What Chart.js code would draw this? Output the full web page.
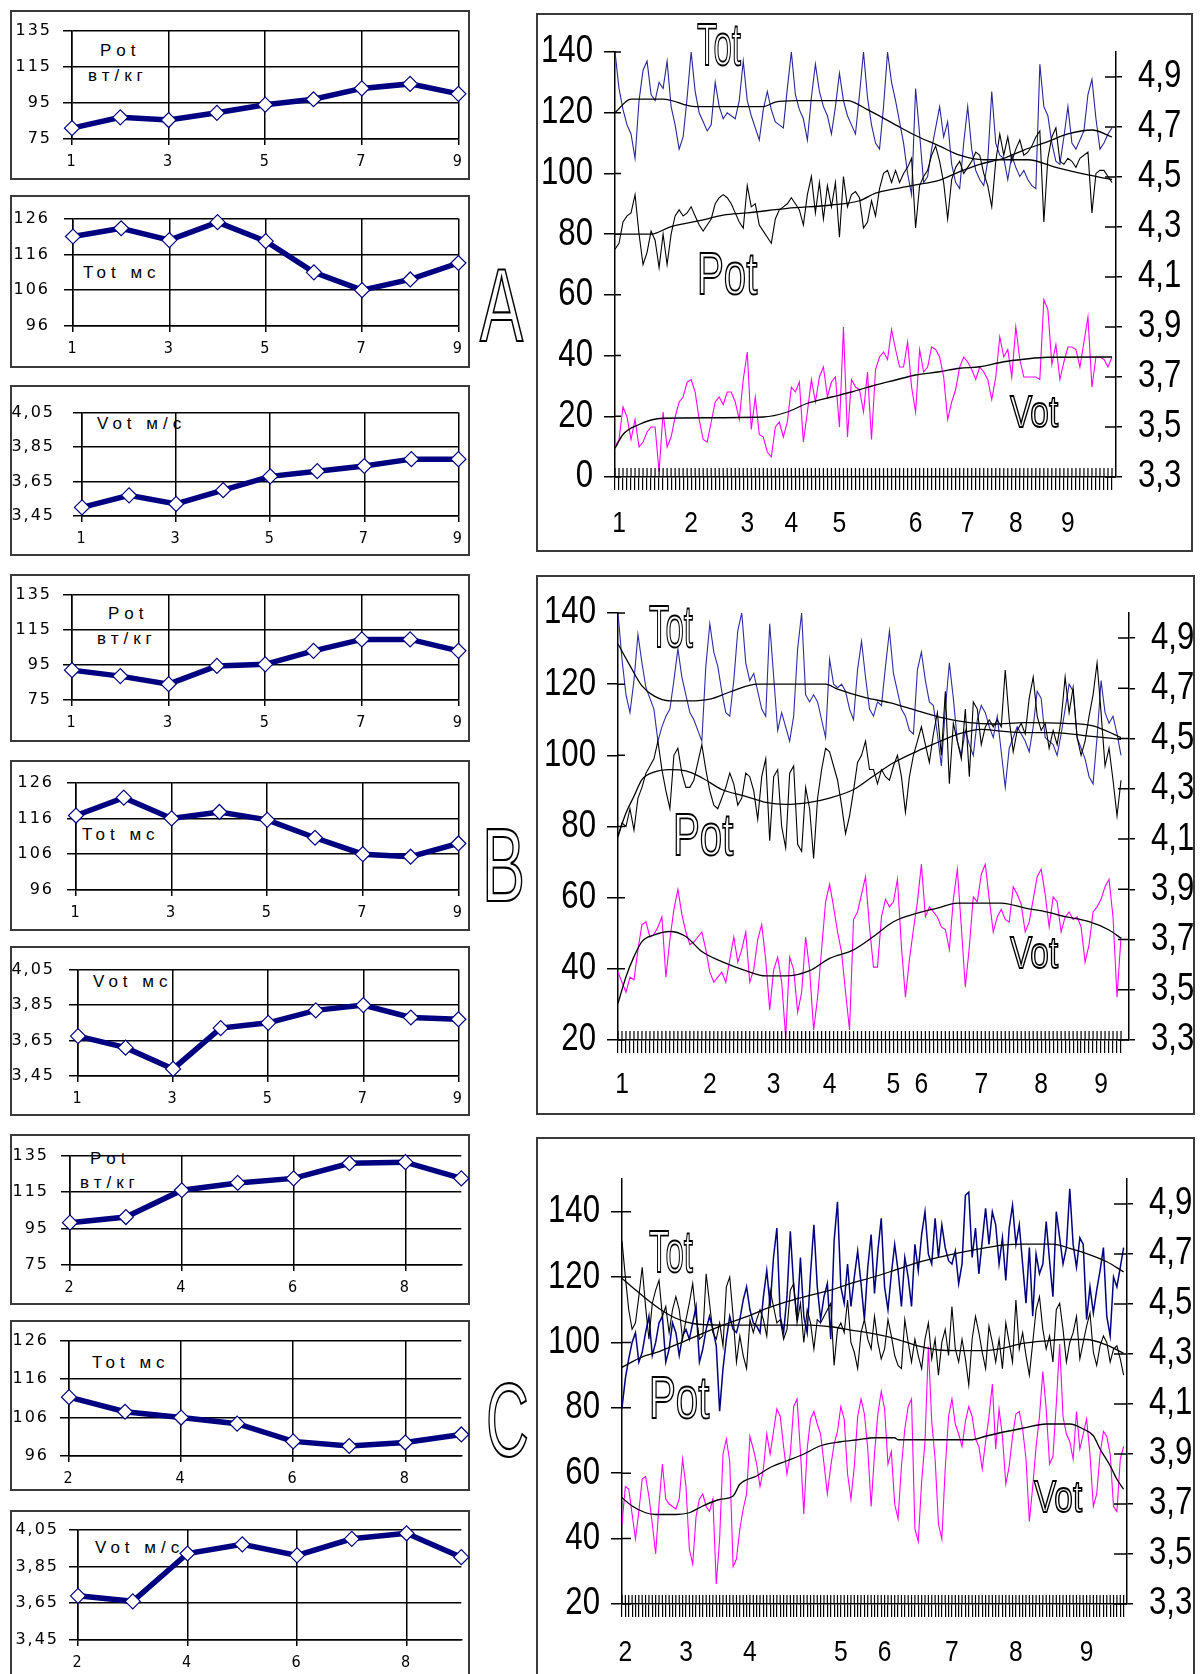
<!DOCTYPE html>
<html>
<head>
<meta charset="utf-8">
<title>Pot / Tot / Vot</title>
<script src="https://cdn.jsdelivr.net/npm/chart.js@4.4.1/dist/chart.umd.min.js"></script>
<style>
  html, body { margin: 0; padding: 0; background: #fff; }
  body { position: relative; width: 1203px; height: 1674px; overflow: hidden; }
  .box { position: absolute; border: 2px solid #3a3a3a; box-sizing: border-box; }
  canvas { position: absolute; }
  .sl { position: absolute; font-family: 'Liberation Sans', Arial, sans-serif; font-size: 17px; letter-spacing: 5px; line-height: 1; white-space: pre; color: #000; }
  .hollow { position: absolute; font-family: 'Liberation Sans', Arial, sans-serif; color: #fff; -webkit-text-stroke: 2.2px #000; line-height: 1; transform-origin: 0 0; white-space: pre; z-index: 5; }
  .hollow.sm { -webkit-text-stroke-width: 1.8px; }
</style>
</head>
<body>

<!-- подписи малых графиков -->
<div class="sl" style="left:100px;top:42px">Pot</div>
<div class="sl" style="left:88px;top:67px">вт/кг</div>
<div class="sl" style="left:83px;top:264px">Tot мс</div>
<div class="sl" style="left:97px;top:415px">Vot м/с</div>
<div class="sl" style="left:108px;top:605px">Pot</div>
<div class="sl" style="left:97px;top:630px">вт/кг</div>
<div class="sl" style="left:82px;top:826px">Tot мс</div>
<div class="sl" style="left:93px;top:973px">Vot мс</div>
<div class="sl" style="left:90px;top:1150px">Pot</div>
<div class="sl" style="left:80px;top:1174px">вт/кг</div>
<div class="sl" style="left:92px;top:1354px">Tot мс</div>
<div class="sl" style="left:95px;top:1539px">Vot м/с</div>

<!-- буквы групп -->
<div class="hollow" style="left:480px;top:253px;font-size:104px;transform:scaleX(0.62)">A</div>
<div class="hollow" style="left:482px;top:813px;font-size:104px;transform:scaleX(0.62)">B</div>
<div class="hollow" style="left:486px;top:1368px;font-size:104px;transform:scaleX(0.57)">C</div>

<!-- подписи больших графиков -->
<div class="hollow sm" style="left:697px;top:15px;font-size:60px;transform:scaleX(0.55)">Tot</div>
<div class="hollow sm" style="left:697px;top:244px;font-size:60px;transform:scaleX(0.67)">Pot</div>
<div class="hollow sm" style="left:1010px;top:389px;font-size:45px;transform:scaleX(0.74)">Vot</div>
<div class="hollow sm" style="left:649px;top:597px;font-size:60px;transform:scaleX(0.55)">Tot</div>
<div class="hollow sm" style="left:673px;top:805px;font-size:60px;transform:scaleX(0.67)">Pot</div>
<div class="hollow sm" style="left:1010px;top:930px;font-size:45px;transform:scaleX(0.74)">Vot</div>
<div class="hollow sm" style="left:649px;top:1222px;font-size:60px;transform:scaleX(0.55)">Tot</div>
<div class="hollow sm" style="left:649px;top:1368px;font-size:60px;transform:scaleX(0.67)">Pot</div>
<div class="hollow sm" style="left:1034px;top:1474px;font-size:45px;transform:scaleX(0.74)">Vot</div>

<script>
// ---- малые графики (по дням) ----
const daysAB = [1, 2, 3, 4, 5, 6, 7, 8, 9];
const daysC = [2, 3, 4, 5, 6, 7, 8, 9];
const dayTicksAB = [1, 3, 5, 7, 9];
const dayTicksC = [2, 4, 6, 8];
const potTicks = [75, 95, 115, 135];
const totTicks = [96, 106, 116, 126];
const votTicks = [3.45, 3.65, 3.85, 4.05];

const potDayA = [81, 87, 85.5, 89.5, 94, 97, 103, 105.5, 100];
const totDayA = [121, 123.3, 120, 125, 119.7, 111, 106, 109, 113.6];
const votDayA = [3.50, 3.57, 3.52, 3.60, 3.68, 3.71, 3.74, 3.78, 3.78];
const potDayB = [92, 88.6, 84, 94.4, 95.3, 103, 109.5, 109.5, 103];
const totDayB = [116.8, 121.8, 116, 117.8, 115.6, 110.6, 106, 105.3, 109];
const votDayB = [3.675, 3.61, 3.49, 3.72, 3.75, 3.82, 3.85, 3.78, 3.77];
const potDayC = [98.2, 101.3, 116, 120, 122.5, 130.8, 131.4, 122.5];
const totDayC = [111.3, 107.5, 106, 104.4, 99.8, 98.6, 99.5, 101.6];
const votDayC = [3.69, 3.66, 3.92, 3.97, 3.91, 4.0, 4.03, 3.90];

// ---- большие графики (по попыткам) ----
const leftTicksA = [0, 20, 40, 60, 80, 100, 120, 140];
const leftTicksBC = [20, 40, 60, 80, 100, 120, 140];
const rightTicks = [3.3, 3.5, 3.7, 3.9, 4.1, 4.3, 4.5, 4.7, 4.9];

const xLabelPosA = [1, 19, 33, 44, 56, 75, 88, 100, 113];
const xLabelsA = ['1', '2', '3', '4', '5', '6', '7', '8', '9'];
const xLabelPosB = [1, 23, 39, 53, 69, 76, 91, 106, 121];
const xLabelsB = ['1', '2', '3', '4', '5', '6', '7', '8', '9'];
const xLabelPosC = [1, 19, 38, 65, 78, 98, 117, 138];
const xLabelsC = ['2', '3', '4', '5', '6', '7', '8', '9'];

const totA = [140,128,121,116,113,105,124,134,137,126, 124,130,128,137,122,116,108,112,125,140,
  127,120,117,114,116,130,122,118,120,119, 118,124,137,124,119,115,111,121,127,121,
  117,116,115,128,140,126,121,118,111,125, 136,127,122,119,113,122,133,124,119,116,
  113,126,140,125,116,110,108,122,140,130, 124,117,110,100,93,128,113,97,99,108,
  115,122,112,117,103,97,95,110,122,108, 101,98,96,104,127,110,106,105,98,106,
  102,99,101,98,96,95,136,122,119,110, 104,103,112,122,110,108,111,114,126,131,
  118,108,110,113,115];
const potA = [75,77,84,86,87,93,80,70,74,81, 78,69,80,70,80,86,88,86,87,89,
  86,83,81,83,85,90,92,93,92,90, 87,84,82,96,89,90,83,81,79,77,
  85,88,89,90,92,90,88,83,93,99, 87,97,85,96,89,97,79,99,89,93,
  94,92,82,84,91,86,95,100,101,97, 101,97,100,102,105,82,96,99,101,106,
  109,104,97,85,98,102,104,100,102,104, 107,106,100,96,89,104,113,106,112,104,
  108,111,106,107,109,112,114,84,105,112, 115,104,103,105,104,102,105,106,107,87,
  100,101,101,99,97];
const votA = [3.42,3.45,3.58,3.54,3.45,3.53,3.42,3.44,3.48,3.50, 3.50,3.32,3.56,3.42,3.46,3.54,3.60,3.62,3.68,3.69,
  3.64,3.53,3.45,3.44,3.52,3.60,3.62,3.59,3.64,3.64, 3.60,3.53,3.69,3.80,3.49,3.62,3.47,3.46,3.40,3.38,
  3.50,3.52,3.46,3.52,3.66,3.64,3.68,3.44,3.56,3.69, 3.60,3.70,3.74,3.62,3.68,3.70,3.50,3.90,3.46,3.69,
  3.66,3.65,3.56,3.72,3.45,3.73,3.78,3.80,3.77,3.89, 3.81,3.74,3.74,3.84,3.66,3.56,3.81,3.72,3.74,3.82,
  3.81,3.78,3.70,3.53,3.60,3.65,3.74,3.78,3.76,3.73, 3.69,3.74,3.72,3.69,3.61,3.70,3.86,3.78,3.81,3.70,
  3.90,3.77,3.70,3.70,3.70,3.70,3.69,4.01,3.97,3.75, 3.83,3.69,3.76,3.82,3.82,3.81,3.74,3.84,3.94,3.66,
  3.78,3.78,3.77,3.74,3.78];
const totTrendXA = [0, 4, 12, 20, 37, 40, 45, 58, 63, 70, 75, 81, 86, 92, 103, 110, 118, 124];
const totTrendA = [120, 124.5, 124.5, 122, 122, 123.5, 124, 124, 121, 116, 112.5, 109, 106, 104.5, 104.5, 102, 99.5, 98];
const potTrendXA = [0, 9, 14, 22, 27, 33, 43, 54, 61, 65, 70, 75, 81, 86, 91, 97, 102, 108, 113, 119, 124];
const potTrendA = [80, 80, 82.5, 84.7, 86.3, 87, 88.5, 89.6, 91, 93.5, 95, 96.2, 97.8, 100.6, 103, 105, 107.7, 110.5, 113, 114.3, 112];
const votTrendXA = [0, 2, 6, 9, 12, 37, 43, 48, 54, 59, 65, 70, 75, 81, 86, 91, 97, 102, 108, 124];
const votTrendA = [3.415, 3.47, 3.51, 3.528, 3.535, 3.54, 3.56, 3.595, 3.62, 3.64, 3.668, 3.688, 3.708, 3.721, 3.735, 3.741, 3.761, 3.771, 3.779, 3.78];

const totB = [140,127,117,112,121,134,126,119,116,113, 104,108,111,113,121,130,122,117,112,110,
  107,104,125,137,129,125,118,112,111,121, 135,140,126,121,123,118,113,111,137,122,
  107,112,108,104,111,130,140,117,115,117, 115,110,105,127,120,119,120,118,113,110,
  124,132,122,113,111,115,114,125,135,123, 118,113,111,107,106,124,129,121,115,114,
  106,97,113,126,116,104,100,107,103,100, 110,114,112,108,105,111,101,91,102,105,
  108,106,104,101,108,118,116,105,104,103, 100,106,113,120,118,105,102,99,94,92,
  105,121,112,109,111,106,100];
const potB = [77,81,80,85,79,88,91,95,97,99, 104,96,90,85,100,102,95,91,91,93,
  98,103,96,90,86,85,88,91,95,92, 86,88,95,94,90,82,94,99,76,94,
  96,80,74,95,97,75,73,91,85,71, 88,96,102,101,97,93,86,78,83,90,
  98,100,104,96,96,92,96,94,93,97, 100,94,84,94,100,104,108,103,98,106,
  112,100,118,92,109,104,99,113,94,115, 113,103,108,110,108,110,108,124,110,101,
  107,109,106,116,122,111,107,109,102,107, 103,110,122,112,119,105,100,104,111,117,
  126,112,97,102,93,83,93];
const votB = [3.57,3.53,3.49,3.55,3.54,3.66,3.76,3.77,3.71,3.72, 3.75,3.79,3.55,3.70,3.82,3.90,3.80,3.73,3.68,3.69,
  3.71,3.73,3.66,3.57,3.53,3.55,3.57,3.53,3.62,3.71, 3.61,3.66,3.73,3.53,3.58,3.70,3.76,3.62,3.42,3.58,
  3.63,3.53,3.31,3.63,3.58,3.41,3.49,3.71,3.58,3.34, 3.47,3.66,3.85,3.92,3.83,3.73,3.65,3.49,3.34,3.78,
  3.81,3.88,3.95,3.75,3.59,3.59,3.79,3.86,3.83,3.85, 3.94,3.67,3.47,3.62,3.74,3.85,4.00,3.79,3.83,3.81,
  3.79,3.75,3.74,3.66,3.86,3.98,3.75,3.51,3.67,3.87, 3.85,3.96,4.00,3.86,3.73,3.79,3.82,3.78,3.77,3.91,
  3.88,3.84,3.73,3.77,3.86,3.95,3.98,3.88,3.75,3.87, 3.85,3.73,3.79,3.81,3.78,3.79,3.75,3.61,3.68,3.81,
  3.83,3.86,3.91,3.94,3.79,3.47,3.71];
const totTrendXB = [0, 3, 6, 9, 13, 18, 23, 28, 35, 42, 52, 55, 62, 68, 75, 81, 88, 94, 102, 112, 119, 126];
const totTrendB = [131.3, 125.2, 119.5, 116.7, 115.3, 115.3, 115.8, 117.8, 120, 120, 120, 118.6, 116.2, 114.8, 112.5, 110.6, 109.2, 108.8, 109.2, 109, 108.3, 105];
const potTrendXB = [0, 2, 4, 6, 9, 13, 17, 21, 26, 32, 37, 42, 48, 53, 59, 64, 69, 75, 80, 85, 91, 96, 102, 109, 118, 126];
const potTrendB = [77.4, 83.8, 88.5, 93.2, 95.3, 96, 95.6, 93.7, 90.4, 88.5, 86.8, 86.2, 86.8, 88, 90.4, 94.2, 97.9, 101.2, 103.6, 105.9, 107.3, 106.8, 106.4, 106.4, 105.4, 104.5];
const votTrendXB = [0, 2, 4, 6, 9, 13, 17, 21, 26, 32, 37, 42, 48, 53, 59, 64, 69, 75, 80, 85, 91, 96, 102, 107, 112, 118, 123, 126];
const votTrendB = [3.446, 3.552, 3.632, 3.692, 3.718, 3.732, 3.712, 3.652, 3.612, 3.576, 3.555, 3.555, 3.576, 3.625, 3.659, 3.712, 3.771, 3.805, 3.825, 3.845, 3.845, 3.845, 3.825, 3.811, 3.791, 3.771, 3.738, 3.705];

const totC = [80,89,95,100,103,94,97,103,108,96, 100,106,108,94,98,106,103,96,102,104,
  101,106,111,94,98,104,108,104,99,79, 92,101,108,104,103,107,113,117,110,106,
  105,103,114,122,111,126,135,108,103,114, 134,117,107,126,108,103,121,136,117,107,
  114,118,101,131,143,117,112,124,111,120, 128,118,107,123,133,115,128,138,117,110,
  121,130,122,111,126,120,111,130,122,133, 140,127,124,138,126,136,129,125,124,128,
  118,124,145,146,126,135,121,131,141,130, 140,136,124,132,119,135,142,130,136,124,
  112,129,108,127,121,124,137,125,114,140, 132,124,129,147,130,123,132,130,107,117,
  109,116,122,129,108,102,120,117,123,129];
const potC = [131,120,110,104,106,114,123,111,101,112, 116,119,108,111,103,110,114,110,101,107,
  112,118,108,101,102,121,112,103,101,106, 99,117,120,108,94,102,96,92,107,103,
  107,110,107,102,116,111,106,107,101,104, 116,118,106,112,100,110,106,98,107,106,
  108,110,112,93,104,106,103,113,100,97, 92,103,107,101,98,108,100,95,98,107,
  102,96,93,92,107,100,94,101,96,92, 101,106,95,101,90,100,104,96,111,98,
  94,101,95,87,101,108,103,97,92,105, 100,94,101,92,106,100,94,113,98,103,
  96,90,100,110,114,104,98,102,94,110, 112,104,94,100,103,108,95,100,105,109,
  97,93,99,102,100,94,98,99,95,90];
const votC = [3.62,3.77,3.76,3.66,3.56,3.67,3.80,3.81,3.73,3.62, 3.50,3.70,3.86,3.72,3.70,3.69,3.68,3.72,3.88,3.77,
  3.52,3.46,3.65,3.72,3.74,3.69,3.67,3.72,3.38,3.56, 3.90,3.96,3.87,3.45,3.48,3.60,3.68,3.74,3.97,3.92,
  3.86,3.77,3.84,3.98,3.90,3.99,4.08,4.05,3.93,3.82, 3.90,4.09,4.12,3.91,3.66,3.92,4.04,4.07,4.02,3.98,
  3.86,3.74,3.85,3.94,3.99,4.09,4.04,3.82,3.72,3.85, 4.05,4.12,4.06,3.92,3.69,3.90,4.06,4.15,4.08,3.86,
  3.91,3.70,3.64,3.85,4.00,4.09,4.12,3.60,3.55,3.79, 3.95,4.33,4.03,3.88,3.62,3.56,3.84,4.05,4.12,4.02,
  3.98,3.93,4.03,4.09,4.05,3.96,3.93,3.84,3.95,4.05, 4.18,3.92,4.08,3.97,3.78,3.85,3.97,4.06,4.07,4.00,
  3.88,3.63,3.77,3.93,4.05,4.23,4.08,3.86,3.89,4.10, 4.34,4.05,3.98,3.95,3.88,4.07,3.92,3.98,4.04,3.90,
  3.69,3.74,3.90,3.99,3.97,3.90,3.69,3.67,3.88,3.93];
const totTrendXC = [0, 6, 11, 17, 24, 30, 37, 43, 49, 56, 62, 68, 75, 81, 87, 94, 100, 107, 113, 119, 126, 128, 133, 138, 144, 149];
const totTrendC = [92.4, 95.6, 97.2, 99.7, 102.8, 105.3, 107.9, 110.4, 112.5, 114.5, 116, 118.1, 120.1, 122.1, 124.2, 126, 127.4, 128.8, 129.8, 130.1, 130.1, 130.1, 128.8, 127.2, 124.7, 121.6];
const potTrendXC = [0, 3, 7, 11, 16, 21, 30, 43, 56, 62, 68, 75, 81, 87, 94, 100, 107, 113, 119, 126, 132, 138, 144, 149];
const potTrendC = [119.6, 117, 113.5, 110.4, 107.4, 105.8, 105.3, 105.3, 105.3, 104.8, 103.8, 102.6, 101.2, 99.2, 97.7, 97.5, 97.5, 98.2, 99.7, 100.5, 100.9, 100.9, 99.2, 96.7];
const votTrendXC = [0, 3, 7, 10, 16, 20, 24, 29, 33, 35, 40, 44, 49, 54, 59, 65, 70, 75, 81, 82, 94, 104, 108, 113, 119, 126, 133, 137, 140, 142, 145, 147, 149];
const votTrendC = [3.725, 3.692, 3.665, 3.658, 3.658, 3.665, 3.692, 3.718, 3.732, 3.779, 3.812, 3.846, 3.873, 3.9, 3.933, 3.949, 3.957, 3.965, 3.965, 3.957, 3.957, 3.957, 3.971, 3.987, 4.003, 4.02, 4.02, 4.0, 3.973, 3.92, 3.853, 3.799, 3.759];

// ---------------------------------------------------------------
const sans = "'Liberation Sans', Arial, sans-serif";
const comma = v => String(v).replace('.', ',');

function addBox(l, t, r, b) {
  const d = document.createElement('div');
  d.className = 'box';
  d.style.cssText = `left:${l}px;top:${t}px;width:${r - l}px;height:${b - t}px`;
  document.body.appendChild(d);
}

function addCanvas(l, t, w, h) {
  const c = document.createElement('canvas');
  c.width = w; c.height = h;
  c.style.cssText = `left:${l}px;top:${t}px;width:${w}px;height:${h}px`;
  document.body.appendChild(c);
  return c;
}

// разрядка подписей на малых графиках
const spacedText = {
  id: 'spacedText',
  beforeDraw(chart) { chart.ctx.letterSpacing = '2px'; },
  afterDraw(chart) { chart.ctx.letterSpacing = '0px'; }
};

// короткие засечки внутрь поля графика (в оригинале они пересекают оси)
const innerTicks = {
  id: 'innerTicks',
  afterDraw(chart, args, opts) {
    const ctx = chart.ctx;
    const { x, y, y2 } = chart.scales;
    ctx.save();
    ctx.strokeStyle = '#000';
    ctx.beginPath();
    ctx.lineWidth = 1.2;
    x.ticks.forEach(t => { const p = x.getPixelForValue(t.value); ctx.moveTo(p, x.top); ctx.lineTo(p, x.top - opts.x); });
    ctx.stroke();
    ctx.beginPath();
    ctx.lineWidth = 1.5;
    y.ticks.forEach(t => { const p = y.getPixelForValue(t.value); ctx.moveTo(y.right, p); ctx.lineTo(y.right + opts.y, p); });
    y2.ticks.forEach(t => { const p = y2.getPixelForValue(t.value); ctx.moveTo(y2.left, p); ctx.lineTo(y2.left - opts.y2, p); });
    ctx.stroke();
    ctx.restore();
  }
};

// узкие (сжатые по горизонтали) подписи осей больших графиков
const narrowLabels = {
  id: 'narrowLabels',
  afterDraw(chart, args, o) {
    const ctx = chart.ctx;
    const { x, y, y2 } = chart.scales;
    const put = (text, px, py, align, size) => {
      ctx.save();
      ctx.translate(px, py);
      ctx.scale(o.squeeze, 1);
      ctx.font = `${size}px ${sans}`;
      ctx.textAlign = align;
      ctx.textBaseline = 'middle';
      ctx.fillStyle = '#000';
      ctx.fillText(text, 0, 0);
      ctx.restore();
    };
    y.ticks.forEach(t => put(String(t.value), y.right - o.leftGap, y.getPixelForValue(t.value), 'right', o.size));
    y2.ticks.forEach(t => put(comma(t.value), y2.left + o.rightGap, y2.getPixelForValue(t.value), 'left', o.size));
    o.xPos.forEach((v, i) => put(o.xText[i], x.getPixelForValue(v), x.top + o.xGap, 'center', o.xSize));
  }
};

function smallChart(p) {
  const [bl, bt, br, bb] = p.box;
  const [pl, pr, pt, pb] = p.plot;
  addBox(bl, bt, br, bb);
  const cv = addCanvas(bl, bt, br - bl, bb - bt);
  new Chart(cv, {
    type: 'line',
    data: {
      datasets: [{
        data: p.x.map((d, i) => ({ x: d, y: p.y[i] })),
        borderColor: '#000080',
        borderWidth: 5.5,
        pointStyle: 'rectRot',
        pointRadius: 7.5,
        pointBackgroundColor: '#fff',
        pointBorderColor: '#000080',
        pointBorderWidth: 1.2,
        clip: false
      }]
    },
    options: {
      animation: false, responsive: false, devicePixelRatio: 1,
      layout: { padding: { left: 0, top: pt - bt, right: br - pr, bottom: 0 } },
      plugins: { legend: { display: false }, tooltip: { enabled: false } },
      scales: {
        x: {
          type: 'linear', min: p.x[0], max: p.x[p.x.length - 1],
          afterBuildTicks: s => { s.ticks = p.xTicks.map(v => ({ value: v })); },
          afterFit: s => { s.height = bb - pb; },
          ticks: { autoSkip: false, maxRotation: 0, padding: 7, color: '#000', font: { family: "'DejaVu Sans Condensed', 'DejaVu Sans', sans-serif", size: 16 } },
          grid: { color: '#000', lineWidth: 1.5, tickLength: 6 },
          border: { color: '#000', width: 1.5 }
        },
        y: {
          min: p.yTicks[0], max: p.yTicks[p.yTicks.length - 1],
          afterBuildTicks: s => { s.ticks = p.yTicks.map(v => ({ value: v })); },
          afterFit: s => { s.width = pl - bl; },
          ticks: { padding: p.pad, color: '#000', font: { family: "'DejaVu Sans', Arial, sans-serif", size: 16 }, callback: v => comma(v) },
          grid: { color: '#000', lineWidth: 1.5, tickLength: 9 },
          border: { color: '#000', width: 1.5 }
        }
      }
    },
    plugins: [spacedText]
  });
}

function bigChart(c) {
  const [cl, ct, cr, cb] = c.canvas;
  const [pl, pr, pt, pb] = c.plot;
  addBox(cl, ct, cr, cb);
  const cv = addCanvas(cl, ct, cr - cl, cb - ct);
  const pts = (xs, ys) => ys.map((v, i) => ({ x: xs ? xs[i] : i, y: v }));
  const trend = (xs, ys, axis) => ({ data: pts(xs, ys), yAxisID: axis, borderColor: '#000', borderWidth: 1.3, cubicInterpolationMode: 'monotone' });
  new Chart(cv, {
    type: 'line',
    data: {
      datasets: [
        trend(c.totTrendX, c.totTrend, 'y'),
        trend(c.potTrendX, c.potTrend, 'y'),
        trend(c.votTrendX, c.votTrend, 'y2'),
        { data: pts(null, c.pot), yAxisID: 'y', borderColor: '#000', borderWidth: 1.1 },
        { data: pts(null, c.tot), yAxisID: 'y', borderColor: c.blue, borderWidth: c.blueWidth },
        { data: pts(null, c.vot), yAxisID: 'y2', borderColor: '#ff00ff', borderWidth: 1.1 }
      ]
    },
    options: {
      animation: false, responsive: false, devicePixelRatio: 1,
      elements: { point: { radius: 0 }, line: { tension: 0 } },
      layout: { padding: { left: 0, top: pt - ct, right: 0, bottom: 0 } },
      plugins: {
        legend: { display: false }, tooltip: { enabled: false },
        innerTicks: c.inner,
        narrowLabels: { squeeze: 0.82, size: 38, xSize: 30, leftGap: 22, rightGap: 22, xGap: c.xGap, xPos: c.xLabelPos, xText: c.xLabels }
      },
      scales: {
        x: {
          type: 'linear', min: 0, max: c.xMax,
          afterBuildTicks: s => { s.ticks = c.tot.map((v, i) => ({ value: i })); },
          afterFit: s => { s.height = cb - pb; },
          ticks: { display: false },
          grid: { drawOnChartArea: false, color: '#000', lineWidth: 1.2, tickLength: 13 },
          border: { color: '#000', width: 1.5 }
        },
        y: {
          position: 'left', min: c.leftTicks[0], max: c.leftMax,
          afterBuildTicks: s => { s.ticks = c.leftTicks.map(v => ({ value: v })); },
          afterFit: s => { s.width = pl - cl; },
          ticks: { display: false },
          grid: { drawOnChartArea: false, color: '#000', lineWidth: 1.5, tickLength: 11 },
          border: { color: '#000', width: 1.5 }
        },
        y2: {
          position: 'right', min: 3.3, max: 5.0,
          afterBuildTicks: s => { s.ticks = rightTicks.map(v => ({ value: v })); },
          afterFit: s => { s.width = cr - pr; },
          ticks: { display: false },
          grid: { drawOnChartArea: false, color: '#000', lineWidth: 1.5, tickLength: 6 },
          border: { color: '#000', width: 1.5 }
        }
      }
    },
    plugins: [innerTicks, narrowLabels]
  });
}

const panels = [
  { box: [10, 10, 470, 180],    plot: [72, 462, 29, 139],    x: daysAB, y: potDayA, yTicks: potTicks, xTicks: dayTicksAB, pad: 11 },
  { box: [10, 195, 470, 368],   plot: [73, 461, 215, 326],   x: daysAB, y: totDayA, yTicks: totTicks, xTicks: dayTicksAB, pad: 14 },
  { box: [10, 385, 470, 556],   plot: [82, 462, 402, 516],   x: daysAB, y: votDayA, yTicks: votTicks, xTicks: dayTicksAB, pad: 18 },
  { box: [10, 574, 470, 742],   plot: [72, 462, 590, 700],   x: daysAB, y: potDayB, yTicks: potTicks, xTicks: dayTicksAB, pad: 11 },
  { box: [10, 760, 470, 931],   plot: [76, 461, 776, 890],   x: daysAB, y: totDayB, yTicks: totTicks, xTicks: dayTicksAB, pad: 13 },
  { box: [10, 946, 470, 1116],  plot: [78, 462, 966, 1076],  x: daysAB, y: votDayB, yTicks: votTicks, xTicks: dayTicksAB, pad: 14 },
  { box: [10, 1134, 470, 1305], plot: [70, 462, 1152, 1265], x: daysC,  y: potDayC, yTicks: potTicks, xTicks: dayTicksC,  pad: 12 },
  { box: [10, 1320, 470, 1491], plot: [69, 462, 1338, 1456], x: daysC,  y: totDayC, yTicks: totTicks, xTicks: dayTicksC,  pad: 11 },
  { box: [10, 1510, 470, 1690], plot: [78, 462, 1526, 1640], x: daysC,  y: votDayC, yTicks: votTicks, xTicks: dayTicksC,  pad: 10 }
];
panels.forEach(smallChart);

bigChart({
  canvas: [536, 13, 1193, 552], plot: [615, 1116, 52, 477],
  leftTicks: leftTicksA, leftMax: 140, xMax: 125, xGap: 47,
  xLabelPos: xLabelPosA, xLabels: xLabelsA,
  tot: totA, pot: potA, vot: votA, blue: '#27279a', blueWidth: 1.1,
  totTrendX: totTrendXA, totTrend: totTrendA, potTrendX: potTrendXA, potTrend: potTrendA, votTrendX: votTrendXA, votTrend: votTrendA,
  inner: { x: 9, y: 6, y2: 11 }
});
bigChart({
  canvas: [536, 575, 1195, 1115], plot: [618, 1129, 613, 1040],
  leftTicks: leftTicksBC, leftMax: 140, xMax: 128, xGap: 45,
  xLabelPos: xLabelPosB, xLabels: xLabelsB,
  tot: totB, pot: potB, vot: votB, blue: '#2c2ca8', blueWidth: 1.1,
  totTrendX: totTrendXB, totTrend: totTrendB, potTrendX: potTrendXB, potTrend: potTrendB, votTrendX: votTrendXB, votTrend: votTrendB,
  inner: { x: 9, y: 7, y2: 11 }
});
bigChart({
  canvas: [536, 1137, 1195, 1690], plot: [622, 1127, 1179, 1604],
  leftTicks: leftTicksBC, leftMax: 150, xMax: 150, xGap: 49,
  xLabelPos: xLabelPosC, xLabels: xLabelsC,
  tot: totC, pot: potC, vot: votC, blue: '#000080', blueWidth: 1.5,
  totTrendX: totTrendXC, totTrend: totTrendC, potTrendX: potTrendXC, potTrend: potTrendC, votTrendX: votTrendXC, votTrend: votTrendC,
  inner: { x: 9, y: 9, y2: 13 }
});
</script>
</body>
</html>
